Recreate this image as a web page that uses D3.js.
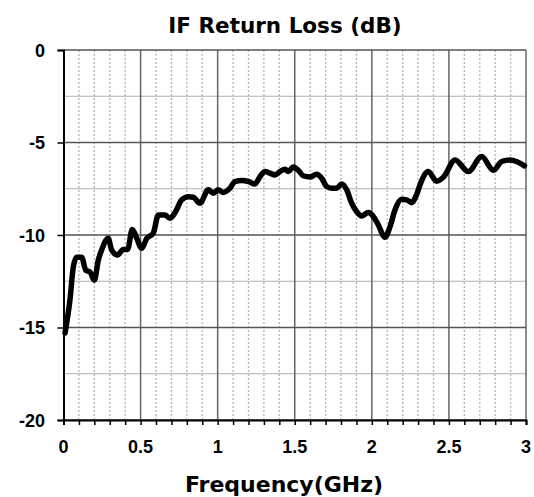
<html>
<head>
  <title>IF Return Loss</title>
  <script src="https://d3js.org/d3.v7.min.js"></script>
  <style>
    body { margin: 0; background: white; }
    text { font-weight: bold; }
    .tick-label { font-family: "Liberation Sans", Arial, sans-serif; }
    .title { font-family: "DejaVu Sans", Verdana, sans-serif; }
  </style>
</head>
<body>
<script>
  // frequency points (GHz)
  const freq = [0.01, 0.042, 0.064, 0.085, 0.118, 0.144, 0.172, 0.2, 0.226, 0.248,
    0.29, 0.312, 0.35, 0.388, 0.416, 0.446, 0.475, 0.507, 0.54, 0.582,
    0.615, 0.658, 0.69, 0.723, 0.767, 0.81, 0.842, 0.885, 0.939, 0.972,
    1.004, 1.036, 1.08, 1.112, 1.156, 1.199, 1.242, 1.275, 1.307, 1.339,
    1.372, 1.404, 1.437, 1.458, 1.49, 1.523, 1.555, 1.599, 1.642, 1.675,
    1.707, 1.74, 1.772, 1.804, 1.837, 1.869, 1.902, 1.934, 1.977, 2.01,
    2.042, 2.085, 2.118, 2.15, 2.193, 2.226, 2.258, 2.29, 2.312, 2.366,
    2.42, 2.464, 2.54, 2.626, 2.712, 2.788, 2.842, 2.896, 2.939, 2.99];
  // return loss (dB)
  const loss = [-15.3, -13.5, -11.7, -11.2, -11.2, -11.9, -12.0, -12.44, -11.35, -10.8,
    -10.18, -10.8, -11.08, -10.78, -10.78, -9.7, -10.18, -10.72, -10.18, -9.91,
    -8.92, -8.92, -9.1, -8.8, -8.1, -7.93, -7.96, -8.28, -7.56, -7.74,
    -7.56, -7.7, -7.47, -7.11, -7.06, -7.11, -7.24, -6.84, -6.57, -6.66,
    -6.75, -6.57, -6.44, -6.57, -6.33, -6.5, -6.8, -6.87, -6.71, -6.93,
    -7.38, -7.47, -7.47, -7.24, -7.56, -8.28, -8.74, -8.97, -8.79, -9.0,
    -9.46, -10.12, -9.55, -8.65, -8.07, -8.1, -8.25, -7.83, -7.3, -6.57,
    -7.09, -6.88, -5.94, -6.57, -5.76, -6.5, -6.03, -5.94, -6.03, -6.26];

  const xTicks = [0, 0.5, 1, 1.5, 2, 2.5, 3];
  const yTicks = [0, -5, -10, -15, -20];

  const width = 534, height = 497;
  const margin = { top: 50, right: 8, bottom: 77, left: 63.5 };

  const svg = d3.select("body").append("svg")
    .attr("width", width)
    .attr("height", height);

  const x = d3.scaleLinear().domain([0, 3]).range([margin.left, width - margin.right]);
  const y = d3.scaleLinear().domain([-20, 0]).range([height - margin.bottom, margin.top]);

  // minor dotted verticals every 0.1
  const minorX = d3.range(1, 30).map(i => i / 10).filter(v => Math.round(v * 10) % 5 !== 0);
  svg.append("g").selectAll("line").data(minorX).join("line")
    .attr("x1", d => x(d)).attr("x2", d => x(d))
    .attr("y1", y(0)).attr("y2", y(-20))
    .attr("stroke", "#b4b4b4").attr("stroke-width", 1.3)
    .attr("stroke-dasharray", "2,2");

  // minor horizontals every 2.5
  svg.append("g").selectAll("line").data([-2.5, -7.5, -12.5, -17.5]).join("line")
    .attr("x1", x(0)).attr("x2", x(3))
    .attr("y1", d => y(d)).attr("y2", d => y(d))
    .attr("stroke", "#b0b0b0").attr("stroke-width", 1.2);

  // major grid
  svg.append("g").selectAll("line").data(xTicks.slice(1)).join("line")
    .attr("x1", d => x(d)).attr("x2", d => x(d))
    .attr("y1", y(0)).attr("y2", y(-20))
    .attr("stroke", "#666").attr("stroke-width", 1.5);
  svg.append("g").selectAll("line").data(yTicks).join("line")
    .attr("x1", x(0)).attr("x2", x(3))
    .attr("y1", d => y(d)).attr("y2", d => y(d))
    .attr("stroke", "#555").attr("stroke-width", 1.5);

  // axes
  const xAxis = svg.append("g")
    .attr("transform", `translate(0,${y(-20)})`)
    .call(d3.axisBottom(x).tickValues(d3.range(0, 31).map(i => i / 10)).tickSize(5).tickFormat(""));
  xAxis.select(".domain").attr("stroke", "#000").attr("stroke-width", 2);
  xAxis.selectAll(".tick line").attr("stroke", "#000").attr("stroke-width", 1.5);

  const yAxis = svg.append("g")
    .attr("transform", `translate(${x(0)},0)`)
    .call(d3.axisLeft(y).tickValues(yTicks).tickSize(6).tickFormat(""));
  yAxis.select(".domain").attr("stroke", "#000").attr("stroke-width", 2);
  yAxis.selectAll(".tick line").attr("stroke", "#000").attr("stroke-width", 1.5);

  // labels
  svg.append("g").selectAll("text").data(xTicks).join("text")
    .attr("class", "tick-label")
    .attr("x", d => x(d)).attr("y", 453)
    .attr("text-anchor", "middle").attr("font-size", 18)
    .text(d => d);
  svg.append("g").selectAll("text").data(yTicks).join("text")
    .attr("class", "tick-label")
    .attr("x", 45).attr("y", d => y(d) + 6.5)
    .attr("text-anchor", "end").attr("font-size", 18)
    .text(d => d);

  svg.append("text")
    .attr("class", "title")
    .attr("x", 285).attr("y", 33)
    .attr("text-anchor", "middle").attr("font-size", 21.5)
    .text("IF Return Loss (dB)");
  svg.append("text")
    .attr("class", "title")
    .attr("x", 284).attr("y", 492)
    .attr("text-anchor", "middle").attr("font-size", 22)
    .text("Frequency(GHz)");

  // curve
  const pts = freq.map((f, i) => [f, loss[i]]);
  svg.append("path")
    .datum(pts)
    .attr("fill", "none")
    .attr("stroke", "#000")
    .attr("stroke-width", 5.5)
    .attr("stroke-linejoin", "round")
    .attr("stroke-linecap", "round")
    .attr("d", d3.line().x(d => x(d[0])).y(d => y(d[1])).curve(d3.curveMonotoneX));
</script>
</body>
</html>
